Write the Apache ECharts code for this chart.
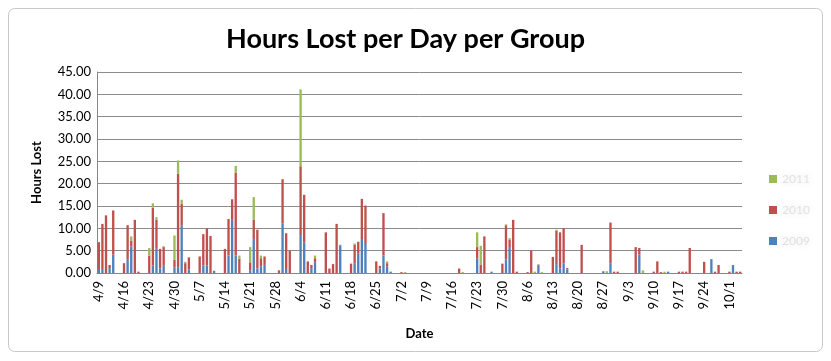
<!DOCTYPE html>
<html>
<head>
<meta charset="utf-8">
<script src="https://cdn.jsdelivr.net/npm/echarts@6/dist/echarts.min.js"></script>
<style>
html,body{margin:0;padding:0;background:#fff;}
#c{width:831px;height:361px;}
</style>
</head>
<body>
<div id="c"></div>
<script>
// Daily categories: 4/9 through 10/4 (179 days)
const startMonth = 4, startDay = 9, dayCount = 179;
const seriesNames = ['2009', '2010', '2011'];

// Stacked values per day (bottom: blue, middle: red, top: green)
const blueVals = [
0.9,0.7,0,1.1,4.1,0,0,0,3.1,5.9, 0,0,0,0,0,1.7,5.4,1.0,1.6,0,
0,1.2,1.3,10.6,0,0.8,0,0,0,1.7, 1.7,0,0.5,0,0,0,3.9,11.9,3.9,0,
0,0,0.6,7.6,1.0,1.5,1.8,0,0,0, 0,11.1,0.9,0,0,0,8.5,6.9,0,1.1,
2.4,0,0,0,0,0,0,6.2,0,0, 0,2.2,4.3,7.6,6.5,0,0,0,1.0,3.9,
1.5,0.3,0,0,0,0,0,0,0,0, 0,0,0,0,0,0,0,0,0,0,
0,0,0,0,0,3.3,0,0,0,0.3, 0,0,0,3.0,5.8,0,0,0,0,0,
0,0,1.6,0,0,0,0,2.0,1.0,2.1, 0.8,0,0,0,0,0,0,0,0,0,
0.4,0,2.2,0,0,0,0,0,0,0, 4.1,0,0,0,0,0,0,0,0.3,0,
0,0,0,0,0,0,0,0,0,0, 3.1,0,0,0,0,0,1.6,0,0
];
const redVals = [
6.0,10.3,12.9,0.7,9.9,0,0,2.2,7.6,1.3, 11.9,0.3,0,0,3.9,12.9,6.5,4.4,4.2,0,
0,1.8,20.9,4.9,2.2,2.7,0,0,3.7,7.0, 8.3,8.3,0,0,0,5.4,8.2,4.6,18.6,3.2,
0,0,1.8,4.3,8.7,1.8,1.9,0,0,0, 0.6,9.9,8.0,5.0,0,0,15.4,10.6,2.6,0.7,
0.9,0,0,9.1,1.0,2.0,11.0,0.1,0,0, 2.1,4.2,2.7,9.0,8.6,0,0,2.6,0.6,9.5,
0.7,0,0,0,0.2,0,0,0,0,0, 0,0,0,0,0,0,0,0,0,0,
1.0,0,0,0,0,2.5,1.9,8.2,0,0, 0,0,2.1,7.7,1.6,11.9,0.3,0,0,0.2,
5.0,0,0.3,0,0,0,3.6,7.5,8.1,7.9, 0.3,0,0,0,6.3,0,0,0,0,0,
0,0,9.1,0.3,0.3,0,0,0,0,5.8, 1.5,0,0,0,0.3,2.6,0.2,0,0,0,
0,0.3,0.3,0.3,5.6,0,0,0,2.5,0, 0,0.3,1.8,0,0,0.3,0.2,0.3,0.3
];
const greenVals = [
0,0,0,0,0,0,0,0,0,1.0, 0,0,0,0,1.7,1.0,0.6,0,0.2,0,
0,5.4,3.0,0.9,0.3,0,0,0,0,0, 0,0,0,0,0,0,0,0,1.5,0.7,
0,0,3.4,5.1,0,0.6,0,0,0,0, 0,0,0,0,0,0,17.2,0,0,0,
0.6,0,0,0,0,0,0,0,0,0, 0,0.2,0,0,0,0,0,0,0,0,
0.4,0,0,0,0,0.2,0,0,0,0, 0,0,0,0,0,0,0,0,0,0,
0,0.2,0,0,0,3.3,4.2,0,0,0, 0,0,0,0.2,0.4,0,0,0,0,0,
0,0.3,0,0.2,0,0,0,0.2,0,0, 0,0,0,0,0,0,0,0,0,0,
0,0.4,0,0,0,0,0,0,0,0, 0,0.6,0,0,0,0,0,0.3,0,0,
0,0,0,0,0,0,0,0,0,0, 0,0,0,0,0,0,0,0,0
];
const yTicks = [0,5,10,15,20,25,30,35,40,45];

const categories = [];
{
  const d = new Date(2012, startMonth - 1, startDay);
  for (let i = 0; i < dayCount; i++) {
    categories.push((d.getMonth() + 1) + '/' + d.getDate());
    d.setDate(d.getDate() + 1);
  }
}

const chart = echarts.init(document.getElementById('c'), null, {renderer: 'canvas'});
const FONT = 'Lato, "Open Sans", sans-serif';
const mkSeries = (name, data, color) => ({
  name, type: 'bar', stack: 'total', data,
  itemStyle: {color},
  barCategoryGap: '35%',
  emphasis: {disabled: true}
});
chart.setOption({
  animation: false,
  backgroundColor: '#fff',
  textStyle: {fontFamily: FONT},
  graphic: [{
    type: 'rect', shape: {x: 8.5, y: 8.5, width: 814, height: 343, r: 6},
    style: {fill: 'none', stroke: '#c8c8c8', lineWidth: 1}, silent: true
  }],
  title: {
    text: 'Hours Lost per Day per Group',
    left: 221, top: 21,
    textStyle: {fontFamily: FONT, fontSize: 27, fontWeight: 'bold', color: '#000'}
  },
  legend: {
    orient: 'vertical', left: 764, top: 168,
    itemWidth: 8, itemHeight: 8, itemGap: 19,
    data: [seriesNames[2], seriesNames[1], seriesNames[0]],
    icon: 'rect',
    textStyle: {fontFamily: FONT, fontSize: 12, color: 'rgba(170,170,170,0.3)',
      textShadowColor: 'rgba(130,130,130,0.7)', textShadowBlur: 6}
  },
  grid: {left: 97, right: 89, top: 72, bottom: 88, containLabel: false},
  xAxis: {
    type: 'category', data: categories,
    name: 'Date', nameLocation: 'middle', nameGap: 54,
    nameTextStyle: {fontFamily: FONT, fontSize: 13, fontWeight: 'bold', color: '#000'},
    axisLine: {lineStyle: {color: '#868686'}},
    axisTick: {show: false},
    axisLabel: {interval: 6, rotate: 90, fontFamily: FONT, fontSize: 13, color: '#000', margin: 8}
  },
  yAxis: {
    type: 'value', min: 0, max: 45, interval: 5,
    name: 'Hours Lost', nameLocation: 'middle', nameGap: 54,
    nameTextStyle: {fontFamily: FONT, fontSize: 13, fontWeight: 'bold', color: '#000'},
    axisLine: {show: true, lineStyle: {color: '#868686'}},
    axisTick: {show: false},
    splitLine: {lineStyle: {color: '#8c8c8c', width: 1}},
    axisLabel: {fontFamily: FONT, fontSize: 13, color: '#000', margin: 6,
      formatter: v => yTicks.includes(v) ? v.toFixed(2) : ''}
  },
  series: [
    mkSeries(seriesNames[0], blueVals, '#4F81BD'),
    mkSeries(seriesNames[1], redVals, '#C0504D'),
    mkSeries(seriesNames[2], greenVals, '#9BBB59')
  ]
});
</script>
</body>
</html>
